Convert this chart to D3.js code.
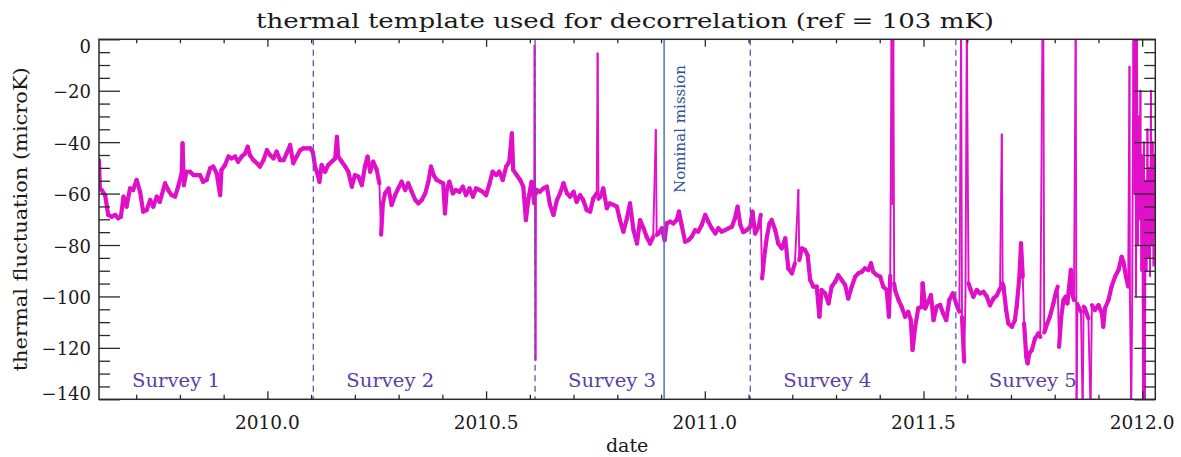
<!DOCTYPE html>
<html><head><meta charset="utf-8">
<script src="https://cdn.jsdelivr.net/npm/d3@7/dist/d3.min.js"></script>
<style>
html,body{margin:0;padding:0;background:#fff;}
svg{display:block;}
text{font-family:"DejaVu Serif",serif;}
</style></head><body>
<svg id="chart" width="1181" height="457"></svg>
<script>
// ---------------- data ----------------
const title = "thermal template used for decorrelation (ref = 103 mK)";
const xLabel = "date";
const yLabel = "thermal fluctuation (microK)";
const xDomain = [2009.615, 2012.030];
const yDomain = [-140, 0];
const xMajorTicks = [2010.0, 2010.5, 2011.0, 2011.5, 2012.0];
const xTickLabels = ["2010.0", "2010.5", "2011.0", "2011.5", "2012.0"];
const xMinorTicks = [2009.7, 2009.8, 2009.9, 2010.1, 2010.2, 2010.3, 2010.4, 2010.6, 2010.7, 2010.8, 2010.9,
  2011.1, 2011.2, 2011.3, 2011.4, 2011.6, 2011.7, 2011.8, 2011.9];
const yMajorTicks = [0, -20, -40, -60, -80, -100, -120, -140];
const yTickLabels = ["0", "\u221220", "\u221240", "\u221260", "\u221280", "\u2212100", "\u2212120", "\u2212140"];
const yMinorTicks = [-5, -10, -15, -25, -30, -35, -45, -50, -55, -65, -70, -75, -85, -90, -95,
  -105, -110, -115, -125, -130, -135];
const surveyStarts = [2009.615, 2010.105, 2010.612, 2011.104, 2011.574];
const surveyNames = ["Survey 1", "Survey 2", "Survey 3", "Survey 4", "Survey 5"];
const surveyBoundaries = [2010.105, 2010.612, 2011.104, 2011.574];
const nominalEnd = 2010.907;
const nominalLabel = "Nominal mission";

const dates = [
2009.615,2009.617,2009.621,2009.629,2009.636,2009.644,2009.652,2009.659,2009.665,2009.671,
2009.678,2009.686,2009.693,2009.701,2009.709,2009.716,2009.724,2009.732,2009.739,2009.747,
2009.754,2009.766,2009.773,2009.781,2009.789,2009.796,2009.804,2009.806,2009.809,2009.815,
2009.823,2009.831,2009.838,2009.846,2009.853,2009.861,2009.869,2009.876,2009.884,2009.892,
2009.895,2009.903,2009.911,2009.918,2009.926,2009.933,2009.941,2009.949,2009.955,2009.960,
2009.968,2009.976,2009.983,2009.991,2009.999,2010.006,2010.014,2010.021,2010.029,2010.037,
2010.044,2010.052,2010.059,2010.067,2010.075,2010.082,2010.090,2010.098,2010.104,
2010.109,2010.113,2010.119,2010.124,2010.132,2010.139,2010.147,2010.155,2010.159,2010.162,
2010.170,2010.178,2010.185,2010.193,2010.200,2010.208,2010.216,2010.223,2010.229,2010.235,
2010.242,2010.250,2010.256,2010.260,2010.264,2010.269,2010.277,2010.284,2010.292,2010.299,
2010.307,2010.315,2010.322,2010.330,2010.338,2010.345,2010.353,2010.361,2010.368,2010.374,
2010.380,2010.387,2010.395,2010.402,2010.406,2010.410,2010.416,2010.424,2010.431,2010.439,
2010.447,2010.454,2010.462,2010.470,2010.477,2010.485,2010.492,2010.500,2010.508,2010.515,
2010.523,2010.530,2010.538,2010.546,2010.553,2010.559,2010.562,2010.570,2010.578,2010.585,
2010.591,2010.597,2010.604,2010.610,2010.611,2010.613,2010.614,
2010.616,2010.623,2010.631,2010.639,2010.646,2010.654,2010.662,2010.669,2010.677,2010.685,
2010.692,2010.700,2010.707,2010.715,2010.722,2010.730,2010.738,2010.745,2010.753,2010.755,
2010.757,2010.761,2010.768,2010.776,2010.783,2010.791,2010.799,2010.806,2010.814,2010.822,
2010.829,2010.837,2010.845,2010.852,2010.860,2010.867,2010.875,2010.882,2010.888,2010.890,
2010.894,2010.902,2010.908,2010.913,2010.921,2010.928,2010.936,2010.941,2010.947,2010.955,
2010.963,2010.970,2010.978,2010.985,2010.993,2011.001,2011.008,2011.016,2011.024,2011.031,
2011.039,2011.046,2011.054,2011.062,2011.069,2011.075,2011.081,2011.088,2011.096,2011.104,
2011.109,2011.115,2011.123,2011.128,2011.131,2011.136,2011.142,2011.148,2011.153,2011.161,
2011.168,2011.176,2011.184,2011.191,2011.199,2011.206,2011.214,2011.216,2011.222,2011.229,
2011.235,2011.241,2011.248,2011.256,2011.262,2011.267,2011.275,2011.283,2011.290,2011.298,
2011.305,2011.313,2011.321,2011.328,2011.336,2011.344,2011.351,2011.359,2011.366,2011.374,
2011.380,2011.385,2011.393,2011.401,2011.408,2011.416,2011.421,2011.424,2011.427,2011.429,
2011.431,2011.433,2011.435,2011.443,2011.450,2011.458,2011.465,2011.471,2011.475,2011.481,
2011.488,2011.496,2011.498,2011.504,2011.511,2011.517,2011.523,2011.530,2011.538,2011.545,
2011.552,2011.559,2011.567,2011.576,
2011.582,2011.586,2011.588,2011.593,2011.596,2011.599,2011.603,2011.608,2011.614,2011.622,
2011.629,2011.637,2011.645,2011.652,2011.660,2011.668,2011.675,2011.679,2011.681,2011.683,
2011.689,2011.694,2011.702,2011.709,2011.713,2011.719,2011.723,2011.727,2011.730,2011.735,
2011.738,2011.742,2011.748,2011.755,2011.763,2011.767,2011.772,2011.774,2011.776,2011.778,
2011.783,2011.789,2011.797,2011.803,2011.807,2011.810,2011.815,2011.820,2011.825,2011.829,
2011.837,2011.840,2011.844,2011.848,2011.850,2011.852,2011.854,2011.860,2011.864,2011.866,
2011.869,2011.877,2011.882,2011.885,2011.892,2011.900,2011.908,2011.911,2011.915,2011.923,
2011.930,2011.938,2011.946,2011.953,2011.957,2011.963,2011.968,2011.971,2011.972,2011.975,
2011.977,2011.980,2011.982,2011.984,2011.986,2011.988,2011.990,2011.992,2011.994,2011.996,
2011.998,2012.000,2012.002,2012.004,2012.006,2012.008,2012.010,2012.012,2012.014,2012.016,
2012.018,2012.020,2012.022,2012.024,2012.026,2012.028,2012.030
];

const microK = [
-47,-58,-58.6,-60.6,-68.3,-69,-68.3,-69.6,-69,-61.2,
-65.1,-58,-58.6,-54.7,-59.3,-67,-66.4,-62.5,-65.1,-61.2,
-63.2,-56,-58.6,-60.6,-61.2,-57.3,-52.1,-40.5,-56.7,-51.5,
-51.5,-52.8,-52.8,-52.8,-55.4,-54.7,-50.2,-49.5,-52.1,-60.6,
-50.8,-48.9,-45.6,-46.3,-45.6,-47.6,-45.6,-44.4,-41.8,-45,
-47,-48.2,-49.5,-47,-43.1,-45,-46.3,-43.7,-47,-47,
-44.4,-41.1,-48.2,-45.6,-43.1,-42.4,-42.4,-42.4,-44,
-49.5,-51.5,-55.4,-48.9,-51.5,-48.9,-47.6,-46.3,-37.9,-45.6,
-47.6,-49.5,-51.5,-57.3,-52.8,-53.4,-56.7,-49.5,-45.6,-51.5,
-47.6,-50.8,-56,-76,-63.8,-59.9,-58,-64.4,-60.6,-58,
-55.4,-58.6,-56,-59.3,-62.5,-63.8,-62.5,-59.9,-55.4,-49.5,
-52.8,-54.7,-55.4,-56,-67.7,-58.6,-55.4,-59.9,-58.6,-59.3,
-57.3,-60.6,-58,-61.2,-58,-58.6,-59.3,-60.6,-56,-51.5,
-52.8,-51.5,-54.7,-49.5,-47.6,-36.6,-50.8,-52.8,-54.7,-57.3,
-70.3,-61.8,-55.4,-63.8,-2.5,-124.7,-60,
-58.6,-59.3,-58,-57.3,-64.4,-68.3,-62.5,-59.9,-56,-59.9,
-61.2,-59.3,-63.2,-60.6,-62.5,-66.4,-67,-61.9,-59.9,-5.5,
-62,-61.2,-58,-65.7,-63.8,-64.4,-65.1,-70.3,-74.8,-69.6,
-63.8,-74.2,-79.4,-70.3,-73.5,-76.8,-79.4,-76.8,-35.3,-76,
-75.5,-73.5,-78.1,-71.6,-70.9,-71.6,-70.3,-67,-72.2,-78.7,
-78.1,-76.8,-74.2,-74.8,-72.2,-68.3,-70.9,-73.5,-75.5,-73.5,
-74.8,-74.2,-73.5,-72.9,-69.6,-65.1,-72,-75,-74.2,-72.9,
-67,-75.5,-72.9,-68.3,-93,-84.6,-76.8,-71.6,-70.3,-74.2,
-79.4,-81.3,-77.4,-89.1,-91,-87.1,-58.6,-85.8,-81.3,-81.9,
-83.9,-93.6,-96.2,-96.2,-107.9,-97.5,-98.8,-102.7,-96.2,-94.3,
-91.7,-93.6,-95.6,-100.8,-96.2,-92.3,-91,-90.4,-89.1,-89.7,
-87.1,-90.4,-91.7,-92.3,-96.2,-97.5,-107.9,-92,5,-64,
5,-95,-97.5,-101.4,-104,-107.9,-106,-109.2,-120.8,-111.8,
-104.6,-104,-94.9,-104.6,-102,-99.5,-109.2,-104,-103.3,-106.6,
-109.2,-101.4,-98.8,-103.4,
-105.9,5,-108,-125.4,-100,5,-94.9,-97.5,-100.1,-97.5,
-98.8,-98.2,-100.1,-103.4,-100.8,-99.5,-96.9,-37,-95,-96.2,
-105.3,-110.5,-111.8,-109.2,-104,-93,-79.4,-92.3,-110.5,-123.4,
-126,-122.1,-120.8,-116.3,-114.4,-115.7,5,5,-114,-113.1,
-110.5,-107.9,-102.7,-98.2,-96.2,-119.6,-107.9,-101.4,-100.1,-102.7,
-89.7,-98.8,-101.4,5,-145,-103,-104,-105.9,-145,-104,
-104.6,-108.5,-145,-103.4,-105.3,-103.4,-106.6,-111.8,-104.6,-101.4,
-96.2,-92.3,-89.7,-84.6,-86.5,-92.3,-96.2,-10.7,-100,-145,
-105,5,-60,5,-100,5,-80,-30,-70,-20,
-90,-45,-145,-40,-145,-55,-90,-35,-85,-50,
-92,-20,-80,-40,-88,-45,-75
];

// ---------------- drawing ----------------
const svg = d3.select("#chart");
const L = 99, R = 1155.3, T = 39.3, B = 399.3;
const x = d3.scaleLinear().domain(xDomain).range([L, R]);
const y = d3.scaleLinear().domain(yDomain).range([B, T]);
const axisColor = "#2a2a2a";

svg.append("rect").attr("width", 1181).attr("height", 457).attr("fill", "#fff");

svg.append("defs").append("clipPath").attr("id", "plotclip")
  .append("rect").attr("x", L).attr("y", T).attr("width", R - L).attr("height", B - T);

// data drawn as consecutive segments: the slowly varying (noisy) band is drawn
// broad, isolated glitches (steep jumps) are drawn as thin strokes.
const segs = d3.pairs(dates.map((d, i) => [d, microK[i]]));
svg.append("g").attr("clip-path", "url(#plotclip)")
  .selectAll("line").data(segs).join("line")
  .attr("x1", d => x(d[0][0])).attr("y1", d => y(d[0][1]))
  .attr("x2", d => x(d[1][0])).attr("y2", d => y(d[1][1]))
  .attr("stroke", "#e010c8")
  .attr("stroke-linecap", "round")
  .attr("stroke-width", d => Math.abs(y(d[1][1]) - y(d[0][1])) > 45 ? 1.9 : 4.2);

// survey boundaries
svg.append("g").selectAll("line").data(surveyBoundaries).join("line")
  .attr("x1", d => x(d)).attr("x2", d => x(d))
  .attr("y1", T).attr("y2", B)
  .attr("stroke", "#5c55b4").attr("stroke-width", 1.3)
  .attr("stroke-dasharray", "6,4.5");

// nominal mission end
svg.append("line")
  .attr("x1", x(nominalEnd)).attr("x2", x(nominalEnd))
  .attr("y1", T).attr("y2", B)
  .attr("stroke", "#4c74b8").attr("stroke-width", 1.5);

svg.append("text")
  .attr("transform", `translate(${x(nominalEnd) + 21},129) rotate(-90)`)
  .attr("text-anchor", "middle")
  .attr("font-size", 15)
  .attr("textLength", 128).attr("lengthAdjust", "spacingAndGlyphs")
  .attr("fill", "#2f4f9f")
  .text(nominalLabel);

// survey labels
svg.append("g").selectAll("text").data(surveyNames).join("text")
  .attr("x", (d, i) => x(surveyStarts[i]) + 33)
  .attr("y", 386.5)
  .attr("font-size", 18)
  .attr("textLength", 88).attr("lengthAdjust", "spacingAndGlyphs")
  .attr("fill", "#5b3ea6")
  .text(d => d);

// axes ticks (inward)
function styleAxis(g) {
  g.select(".domain").remove();
  g.selectAll(".tick line").attr("stroke", axisColor).attr("stroke-width", 1.3);
  g.selectAll(".tick text").remove();
}
svg.append("g").attr("transform", `translate(0,${B})`)
  .call(d3.axisBottom(x).tickValues(xMajorTicks).tickSize(-8).tickFormat("")).call(styleAxis);
svg.append("g").attr("transform", `translate(0,${B})`)
  .call(d3.axisBottom(x).tickValues(xMinorTicks).tickSize(-4.5).tickFormat("")).call(styleAxis);
svg.append("g").attr("transform", `translate(0,${T})`)
  .call(d3.axisTop(x).tickValues(xMajorTicks).tickSize(-7.5).tickFormat("")).call(styleAxis);
svg.append("g").attr("transform", `translate(0,${T})`)
  .call(d3.axisTop(x).tickValues(xMinorTicks).tickSize(-4).tickFormat("")).call(styleAxis);
svg.append("g").attr("transform", `translate(${L},0)`)
  .call(d3.axisLeft(y).tickValues(yMajorTicks).tickSize(-21).tickFormat("")).call(styleAxis);
svg.append("g").attr("transform", `translate(${L},0)`)
  .call(d3.axisLeft(y).tickValues(yMinorTicks).tickSize(-11).tickFormat("")).call(styleAxis);
svg.append("g").attr("transform", `translate(${R},0)`)
  .call(d3.axisRight(y).tickValues(yMajorTicks).tickSize(-21).tickFormat("")).call(styleAxis);
svg.append("g").attr("transform", `translate(${R},0)`)
  .call(d3.axisRight(y).tickValues(yMinorTicks).tickSize(-11).tickFormat("")).call(styleAxis);

// frame
svg.append("rect").attr("x", L).attr("y", T).attr("width", R - L).attr("height", B - T)
  .attr("fill", "none").attr("stroke", axisColor).attr("stroke-width", 1.5);

// tick labels
svg.append("g").selectAll("text").data(xMajorTicks).join("text")
  .attr("x", d => x(d)).attr("y", 429)
  .attr("text-anchor", "middle").attr("font-size", 18.5).attr("fill", "#1a1a1a")
  .text((d, i) => xTickLabels[i]);

svg.append("g").selectAll("text").data(yMajorTicks).join("text")
  .attr("x", L - 8)
  .attr("y", d => Math.max(y(yDomain[1]) + 14, Math.min(y(d) + 7.5, y(yDomain[0]) + 0.7)))
  .attr("text-anchor", "end").attr("font-size", 18).attr("fill", "#1a1a1a")
  .text((d, i) => yTickLabels[i]);

// titles
svg.append("text").attr("x", 625).attr("y", 28)
  .attr("text-anchor", "middle").attr("font-size", 21)
  .attr("textLength", 738).attr("lengthAdjust", "spacingAndGlyphs")
  .attr("fill", "#1a1a1a").text(title);

svg.append("text").attr("x", (L + R) / 2).attr("y", 452)
  .attr("text-anchor", "middle").attr("font-size", 19)
  .attr("fill", "#1a1a1a").text(xLabel);

svg.append("text")
  .attr("transform", `translate(27,${(T + B) / 2}) rotate(-90)`)
  .attr("text-anchor", "middle").attr("font-size", 19)
  .attr("textLength", 304).attr("lengthAdjust", "spacingAndGlyphs")
  .attr("fill", "#1a1a1a").text(yLabel);
</script>
</body></html>
